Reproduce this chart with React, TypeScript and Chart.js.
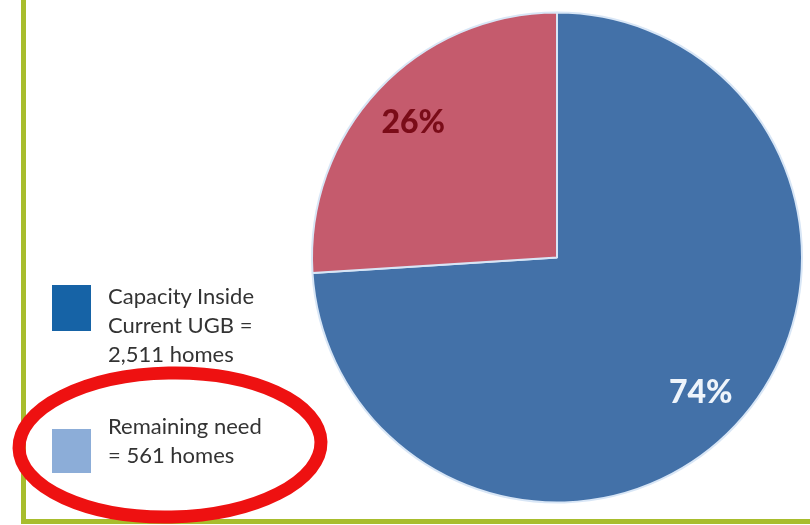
import React, { useEffect, useRef } from "react";
import { Chart, registerables } from "chart.js";

Chart.register(...registerables);

const categories = ["Capacity Inside Current UGB", "Remaining need"];
const homes = ["2,511", "561"];
const percentValues = [74, 26];
const percentLabels = ["74%", "26%"];
const sliceColors = ["#4371A8", "#C55B6D"];
const legendSwatchColors = ["#1663A6", "#8CADD8"];
const labelColors = ["#EEF4FB", "#7A0C18"];

const framePlugin = {
  id: "frame",
  beforeDraw(chart: any) {
    const ctx = chart.ctx;
    ctx.save();
    ctx.fillStyle = "#ffffff";
    ctx.fillRect(0, 0, chart.width, chart.height);
    ctx.strokeStyle = "#A8BD2D";
    ctx.lineWidth = 5;
    ctx.beginPath();
    ctx.moveTo(23.5, 0);
    ctx.lineTo(23.5, 521.5);
    ctx.lineTo(chart.width, 521.5);
    ctx.stroke();
    ctx.restore();
  },
  afterDraw(chart: any) {
    const ctx = chart.ctx;
    const meta = chart.getDatasetMeta(0);
    ctx.save();
    ctx.textAlign = "center";
    ctx.textBaseline = "middle";
    ctx.font = "900 32px Lato, 'Open Sans', sans-serif";
    meta.data.forEach((arc: any, i: number) => {
      const p = arc.getProps(["x", "y", "startAngle", "endAngle", "outerRadius"], true);
      const mid = (p.startAngle + p.endAngle) / 2;
      const r = p.outerRadius * 0.805;
      ctx.fillStyle = labelColors[i];
      ctx.fillText(percentLabels[i], p.x + Math.cos(mid) * r, p.y + Math.sin(mid) * r);
    });
    // red hand-drawn annotation ellipse
    ctx.strokeStyle = "#EE1111";
    ctx.lineWidth = 13;
    ctx.beginPath();
    ctx.ellipse(170, 445, 151, 72, -0.02, 0, Math.PI * 2);
    ctx.stroke();
    ctx.restore();
  },
};

export default function App() {
  const canvasRef = useRef<HTMLCanvasElement | null>(null);

  useEffect(() => {
    document.body.style.margin = "0";
    const chart = new Chart(canvasRef.current as HTMLCanvasElement, {
      type: "pie",
      data: {
        labels: categories,
        datasets: [
          {
            data: percentValues,
            backgroundColor: sliceColors,
            borderColor: "#D8E6F6",
            borderWidth: 2,
          },
        ],
      },
      options: {
        animation: false,
        responsive: false,
        maintainAspectRatio: false,
        layout: { padding: { left: 311, top: 11, right: 7, bottom: 21 } },
        plugins: {
          legend: { display: false },
          tooltip: { enabled: false },
        },
      },
      plugins: [framePlugin],
    });
    return () => chart.destroy();
  }, []);

  const textStyle: React.CSSProperties = {
    position: "absolute",
    left: 108,
    fontFamily: "Lato, 'Open Sans', sans-serif",
    fontSize: 22,
    lineHeight: "29px",
    color: "#333333",
  };

  return (
    <div style={{ position: "relative", width: 810, height: 525, overflow: "hidden", background: "#fff" }}>
      <canvas ref={canvasRef} width={810} height={525} style={{ position: "absolute", left: 0, top: 0 }} />
      <div style={{ position: "absolute", left: 52, top: 285, width: 39, height: 46, background: legendSwatchColors[0] }} />
      <div style={{ ...textStyle, top: 281 }}>
        Capacity Inside
        <br />
        Current UGB =
        <br />
        {homes[0]} homes
      </div>
      <div style={{ position: "absolute", left: 52, top: 429, width: 39, height: 44, background: legendSwatchColors[1] }} />
      <div style={{ ...textStyle, top: 411 }}>
        {categories[1]}
        <br />= {homes[1]} homes
      </div>
    </div>
  );
}
